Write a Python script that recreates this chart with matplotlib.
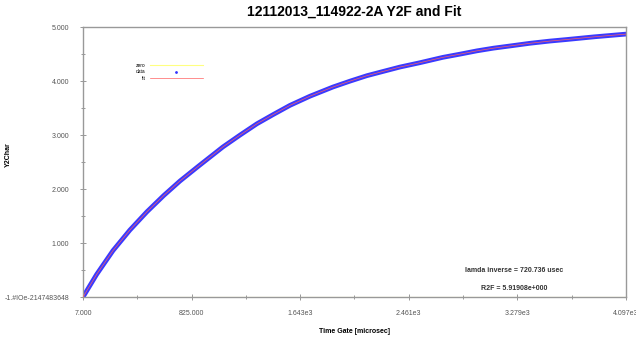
import matplotlib
matplotlib.use("Agg")
import matplotlib.pyplot as plt
from matplotlib.ticker import FixedLocator

plt.rcParams['font.family'] = ['Liberation Sans', 'DejaVu Sans']

# values
time_us = [7, 110, 233, 360, 489, 615, 738, 880, 1061, 1190, 1318, 1440,
           1566, 1717, 1890, 2020, 2146, 2270, 2395, 2545, 2719, 2850,
           2975, 3100, 3223, 3374, 3520, 3652, 3860, 4097]
data_y = [0.0, 0.42, 0.86, 1.24, 1.58, 1.88, 2.15, 2.43, 2.78, 3.00, 3.21,
          3.38, 3.55, 3.72, 3.89, 4.00, 4.10, 4.18, 4.26, 4.34, 4.44, 4.50,
          4.56, 4.61, 4.65, 4.70, 4.74, 4.77, 4.82, 4.87]
fit_y = [0.0, 0.42, 0.86, 1.24, 1.58, 1.88, 2.15, 2.43, 2.78, 3.00, 3.21,
         3.38, 3.55, 3.72, 3.89, 4.00, 4.10, 4.18, 4.26, 4.34, 4.44, 4.50,
         4.56, 4.61, 4.65, 4.70, 4.74, 4.77, 4.82, 4.87]
zero_y = [0.0] * len(time_us)

x_ticks = [7, 825, 1643, 2461, 3279, 4097]
x_labels = ["7.000", "825.000", "1.643e3", "2.461e3", "3.279e3", "4.097e3"]
y_ticks = [0, 1, 2, 3, 4, 5]
y_labels = ["-1.#IOe-2147483648", "1.000", "2.000", "3.000", "4.000", "5.000"]

title = "12112013_114922-2A Y2F and Fit"
lamda_txt = "lamda inverse = 720.736 usec"
r2f_txt = "R2F = 5.91908e+000"

fig = plt.figure(figsize=(6.36, 3.43), dpi=100)
ax = fig.add_axes([0.1305, 0.134, 0.8535, 0.787])

ax.plot(time_us, zero_y, color="#ffff80", lw=0.8, label="zero", zorder=1)
ax.plot(time_us, data_y, color="#3a3aff", lw=3.4, solid_capstyle="round",
        solid_joinstyle="round", zorder=2)
ax.plot([], [], ls="none", marker=".", ms=2, color="#3333ff", label="data")
ax.plot(time_us, fit_y, color="#ff6060", lw=0.5, label="fit", zorder=3)

ax.set_xlim(7, 4097)
ax.set_ylim(0, 5)
ax.set_xticks(x_ticks)
ax.set_xticklabels(x_labels)
ax.set_yticks(y_ticks)
ax.set_yticklabels(y_labels)
ax.xaxis.set_minor_locator(FixedLocator([(a + b) / 2 for a, b in zip(x_ticks[:-1], x_ticks[1:])]))
ax.yaxis.set_minor_locator(FixedLocator([0.5, 1.5, 2.5, 3.5, 4.5]))
ax.tick_params(which="both", labelsize=5, colors="#888888", labelcolor="#555555",
               direction="inout", length=4, width=0.6, pad=8)
ax.tick_params(axis="x", pad=7)
ax.tick_params(which="minor", length=3)

for s in ax.spines.values():
    s.set_color("#999999")
    s.set_linewidth(1.0)

ax.set_title(title, fontsize=10, fontweight="bold", pad=8)
ax.set_xlabel("Time Gate [microsec]", fontsize=5, fontweight="bold", labelpad=8)
ax.set_ylabel("Y2Char", fontsize=5, fontweight="bold")
ax.yaxis.set_label_coords(-0.131, 0.526)

ax.text(0.795, 0.1, lamda_txt, transform=ax.transAxes, fontsize=5,
        fontweight="bold", ha="center", va="center", color="#333333")
ax.text(0.795, 0.03, r2f_txt, transform=ax.transAxes, fontsize=5,
        fontweight="bold", ha="center", va="center", color="#333333")

ax.legend(loc="upper left", bbox_to_anchor=(0.09, 0.885), frameon=False,
          fontsize=3.5, handlelength=11, handletextpad=0.8, labelspacing=0.35,
          markerfirst=False)

fig.savefig("out.png", dpi=100)
